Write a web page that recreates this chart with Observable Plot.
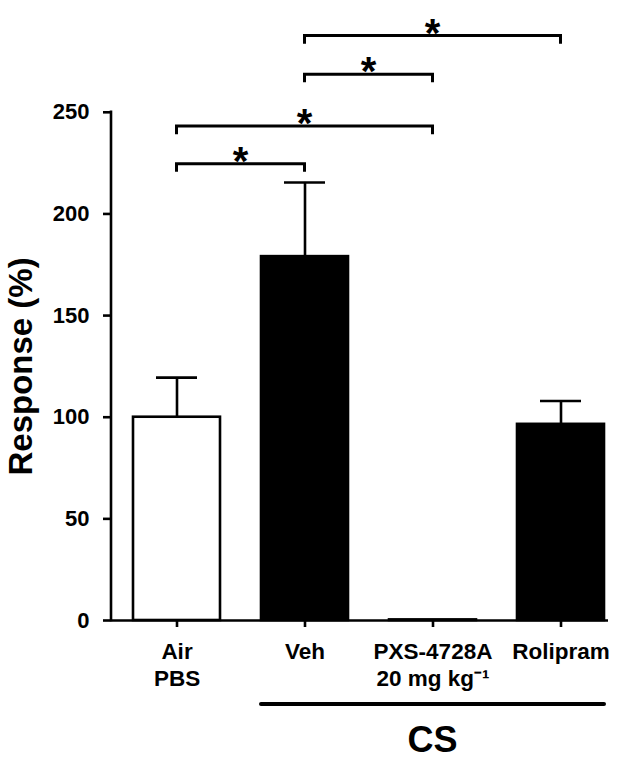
<!DOCTYPE html>
<html>
<head>
<meta charset="utf-8">
<script src="https://cdn.jsdelivr.net/npm/d3@7"></script>
<script src="https://cdn.jsdelivr.net/npm/@observablehq/plot@0.6"></script>
<style>
  html, body { margin: 0; padding: 0; background: #fff; }
</style>
</head>
<body>
<div id="chart"></div>
<script>
// ---- data ----
const categories = ["Air", "Veh", "PXS", "Rolipram"];
const tickLabels = ["Air\nPBS", "Veh", "PXS-4728A\n20 mg kg\u207B\u00B9", "Rolipram"];
const means = [100, 179, 0.3, 96.5];
const sems = [19.5, 36.5, 0, 11.5];
const barFills = ["white", "black", "black", "black"];
const yTicks = [0, 50, 100, 150, 200, 250];
const yLabel = "Response (%)";
// significance comparisons (from, to), bracket heights (in y units), labels
const compFrom = ["Air", "Air", "Veh", "Veh"];
const compTo = ["Veh", "PXS", "PXS", "Rolipram"];
const compLevel = [224.5, 243, 268.5, 287.5];
const compLabel = ["*", "*", "*", "*"];
// grouping under the x axis
const groupLabel = "CS";
const groupFrom = "Veh";
const groupTo = "Rolipram";

const rows = categories.map((c, i) => ({cat: c, mean: means[i], sem: sems[i], fill: barFills[i]}));
const comps = compFrom.map((f, i) => ({from: f, to: compTo[i], level: compLevel[i], label: compLabel[i]}));

const FONT = "'Liberation Sans', Arial, Helvetica, sans-serif";
const LW = 2.6;

// custom render: y-axis line, significance brackets, group bar
function annotations(index, scales, values, dims) {
  const {x, y} = scales;
  const bw = x.bandwidth ? x.bandwidth() : 0;
  const cx = (c) => x(c) + bw / 2;
  const g = d3.create("svg:g");
  // y-axis line from 0 to top tick
  g.append("line")
    .attr("x1", dims.marginLeft).attr("x2", dims.marginLeft)
    .attr("y1", y(0) + LW / 2).attr("y2", y(d3.max(yTicks)) - LW / 2)
    .attr("stroke", "black").attr("stroke-width", LW);
  // brackets
  const leg = 4;
  for (const c of comps) {
    const x1 = cx(c.from), x2 = cx(c.to);
    const yl = y(c.level), yd = y(c.level - leg);
    g.append("path")
      .attr("d", `M${x1},${yd}V${yl}H${x2}V${yd}`)
      .attr("fill", "none").attr("stroke", "black").attr("stroke-width", 3);
    g.append("text")
      .attr("x", (x1 + x2) / 2).attr("y", yl + 11)
      .attr("text-anchor", "middle")
      .attr("font-family", FONT).attr("font-weight", "bold").attr("font-size", 40)
      .attr("fill", "black")
      .text(c.label);
  }
  // group line and label
  const bottom = dims.height - dims.marginBottom;
  const gx1 = x(groupFrom), gx2 = x(groupTo) + bw;
  g.append("line")
    .attr("x1", gx1).attr("x2", gx2)
    .attr("y1", bottom + 84).attr("y2", bottom + 84)
    .attr("stroke", "black").attr("stroke-width", 4).attr("stroke-linecap", "round");
  g.append("text")
    .attr("x", (gx1 + gx2) / 2).attr("y", bottom + 132)
    .attr("text-anchor", "middle")
    .attr("font-family", FONT).attr("font-weight", "bold").attr("font-size", 36)
    .attr("fill", "black")
    .text(groupLabel);
  return g.node();
}

const chart = Plot.plot({
  width: 630,
  height: 761,
  marginTop: 0,
  marginLeft: 111,
  marginRight: 22,
  marginBottom: 141,
  style: {fontFamily: FONT, fontWeight: "bold", background: "white", color: "black"},
  x: {domain: categories, paddingInner: 0.32, paddingOuter: 0.091, align: 0.855, label: null},
  y: {domain: [0, 305], label: null},
  color: {type: "identity"},
  marks: [
    Plot.ruleX(rows.filter(d => d.sem > 0), {x: "cat", y1: "mean", y2: d => d.mean + d.sem, stroke: "black", strokeWidth: LW}),
    Plot.tickY(rows.filter(d => d.sem > 0), {x: "cat", y: d => d.mean + d.sem, stroke: "black", strokeWidth: LW, insetLeft: 23, insetRight: 23}),
    Plot.barY(rows, {x: "cat", y: "mean", fill: "fill", stroke: "black", strokeWidth: LW}),
    Plot.ruleY([0], {stroke: "black", strokeWidth: LW}),
    Plot.axisY({ticks: yTicks, tickSize: 8, tickPadding: 14, fontSize: 22, strokeWidth: LW, label: null}),
    Plot.axisX({tickSize: 7, tickPadding: 13, fontSize: 22.5, lineHeight: 1.17, strokeWidth: LW, label: null,
      tickFormat: d => tickLabels[categories.indexOf(d)]}),
    Plot.text([yLabel], {frameAnchor: "left", textAnchor: "middle", y: [d3.max(yTicks) / 2], text: d => d,
      rotate: -90, dx: -90, fontSize: 33, fontWeight: "bold", fill: "black"}),
    annotations
  ]
});
document.getElementById("chart").appendChild(chart);
</script>
</body>
</html>
